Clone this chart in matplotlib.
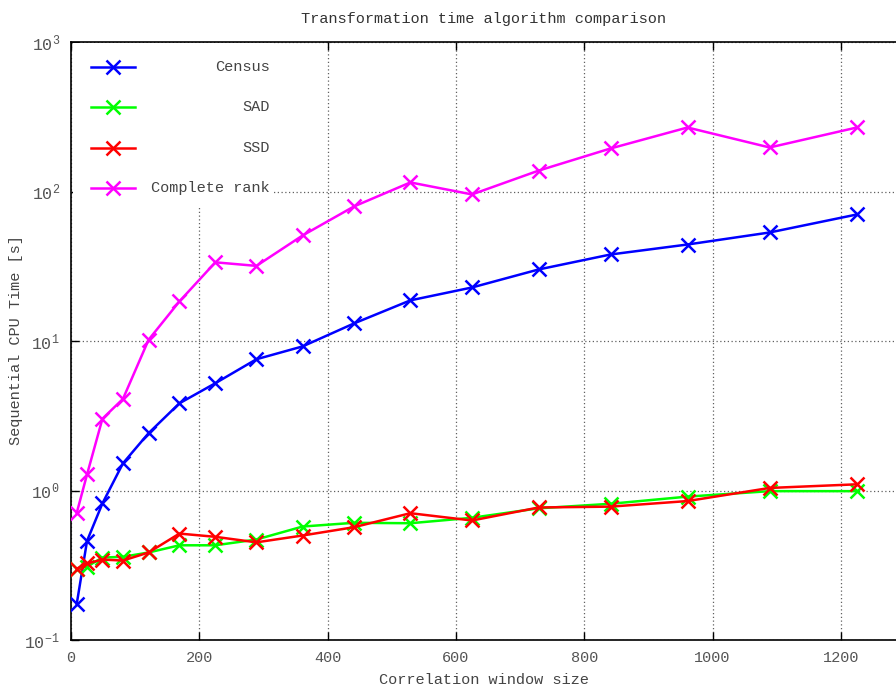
import matplotlib
matplotlib.use("Agg")
import matplotlib.pyplot as plt
from matplotlib.patches import Rectangle
from matplotlib.lines import Line2D
from matplotlib.ticker import FixedLocator, NullLocator

plt.rcParams['font.family'] = ['Liberation Mono', 'DejaVu Sans Mono']
plt.rcParams['mathtext.fontset'] = 'custom'
plt.rcParams['mathtext.rm'] = 'Liberation Mono'
plt.rcParams['mathtext.it'] = 'Liberation Mono'

window_sizes = [9, 25, 49, 81, 121, 169, 225, 289, 361, 441, 529, 625, 729, 841, 961, 1089, 1225]
census = [0.175, 0.46, 0.82, 1.52, 2.42, 3.83, 5.22, 7.55, 9.2, 13.1, 18.7, 22.8, 30.1, 37.9, 44.2, 53.2, 70.2]
sad = [0.30, 0.31, 0.356, 0.36, 0.385, 0.43, 0.43, 0.47, 0.574, 0.608, 0.604, 0.657, 0.76, 0.815, 0.91, 0.99, 0.99]
ssd = [0.30, 0.325, 0.345, 0.34, 0.385, 0.515, 0.49, 0.45, 0.50, 0.568, 0.705, 0.63, 0.77, 0.78, 0.85, 1.04, 1.10]
complete_rank = [0.71, 1.28, 3.02, 4.1, 10.2, 18.4, 33.6, 31.8, 50.8, 79.4, 115, 95.6, 138, 194, 268, 197, 268]

series_names = ["Census", "SAD", "SSD", "Complete rank"]
series_values = [census, sad, ssd, complete_rank]
series_colors = ["#0000ff", "#00ff00", "#ff0000", "#ff00ff"]

x_ticks = [0, 200, 400, 600, 800, 1000, 1200]
y_ticks = [0.1, 1, 10, 100, 1000]
y_tick_labels = [r"$10^{-1}$", r"$10^{0}$", r"$10^{1}$", r"$10^{2}$", r"$10^{3}$"]

fig = plt.figure(figsize=(8.96, 6.89), dpi=100)
ax = fig.add_axes([71/896, 1 - 640/689, 1 - 71/896, (640 - 42)/689])

ax.set_yscale('log')
ax.set_xlim(0, 1286)
ax.set_ylim(0.1, 1000)

for name, vals, col in zip(series_names, series_values, series_colors):
    ax.plot(window_sizes, vals, color=col, lw=1.8, marker='x', ms=10, mew=1.8, zorder=3)

ax.xaxis.set_major_locator(FixedLocator(x_ticks))
ax.yaxis.set_major_locator(FixedLocator(y_ticks))
ax.yaxis.set_minor_locator(NullLocator())
ax.set_yticklabels(y_tick_labels)
ax.set_xticklabels([str(t) for t in x_ticks])

ax.grid(True, which='major', color='#606060', linestyle=(0, (1, 2)), lw=0.9, zorder=1)
ax.tick_params(axis='both', which='major', direction='in', length=6, width=1,
               top=True, right=False, labelsize=11, colors='black', pad=8)
ax.tick_params(axis='y', labelsize=12)
for lab in ax.get_xticklabels() + ax.get_yticklabels():
    lab.set_color('#555555')
ax.spines['right'].set_visible(False)
for s in ['left', 'bottom', 'top']:
    ax.spines[s].set_linewidth(1.2)

ax.set_title("Transformation time algorithm comparison", fontsize=11, color='#333333', pad=14)
ax.set_xlabel("Correlation window size", fontsize=11, color='#444444', labelpad=6)
ax.set_ylabel("Sequential CPU Time [s]", fontsize=11, color='#444444')
ax.yaxis.set_label_coords(-0.058, 0.502)

# legend (gnuplot style: sample left, right-justified text, opaque white box)
W = 896 - 71
H = 640 - 42
def ax_x(px):
    return (px - 71) / W
def ax_y(py):
    return (640 - py) / H

ax.add_patch(Rectangle((0.002, ax_y(207)), ax_x(272), 1 - ax_y(207) - 0.002,
                       transform=ax.transAxes, facecolor='white', edgecolor='none', zorder=2))
rows = [67, 107, 148, 188]
for name, col, py in zip(series_names, series_colors, rows):
    y = ax_y(py)
    ax.add_line(Line2D([ax_x(91), ax_x(135)], [y, y], transform=ax.transAxes,
                       color=col, lw=1.8, zorder=4))
    ax.add_line(Line2D([ax_x(113)], [y], transform=ax.transAxes, color=col,
                       marker='x', ms=10, mew=1.8, zorder=4))
    ax.text(ax_x(270), y, name, transform=ax.transAxes, ha='right', va='center',
            fontsize=11, color='#444444', zorder=4)

fig.savefig("out.png", dpi=100)
